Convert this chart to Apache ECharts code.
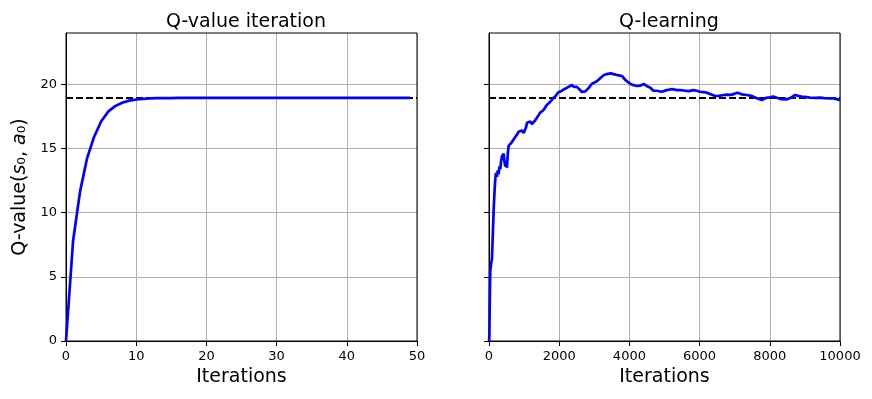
<!DOCTYPE html>
<html style="height: 100%">
<head>
<meta charset="utf-8">
<script src="https://cdn.jsdelivr.net/npm/echarts@6/dist/echarts.min.js"></script>
</head>
<body style="height: 100%; margin: 0; background: #fff">
<div id="container" style="width: 872px; height: 399px"></div>
<script type="text/javascript">
//------ data ------
var optimalQ = 18.94;
// Q-value iteration, one value per iteration 0..49
var qviValues = [0, 7.75, 11.64, 14.24, 15.9, 17.1, 17.87, 18.3, 18.57, 18.73,
  18.82, 18.87, 18.9, 18.92, 18.93, 18.93, 18.94, 18.94, 18.94, 18.94,
  18.94, 18.94, 18.94, 18.94, 18.94, 18.94, 18.94, 18.94, 18.94, 18.94,
  18.94, 18.94, 18.94, 18.94, 18.94, 18.94, 18.94, 18.94, 18.94, 18.94,
  18.94, 18.94, 18.94, 18.94, 18.94, 18.94, 18.94, 18.94, 18.94, 18.94];
// Q-learning
var qlIter = [0, 10, 18, 27, 37, 60, 84, 105, 132, 160, 179, 200, 227, 250, 274, 300, 322, 345, 369, 395,
  417, 440, 464, 490, 512, 535, 559, 600, 654, 700, 749, 800, 844, 890, 939, 990, 1034, 1060, 1081, 1130,
  1176, 1220, 1271, 1318, 1366, 1413, 1460, 1510, 1555, 1600, 1650, 1698, 1745, 1790, 1840, 1900, 1982, 2050, 2124, 2200,
  2266, 2362, 2420, 2505, 2580, 2647, 2742, 2835, 2932, 2977, 3050, 3119, 3170, 3264, 3300, 3360, 3406, 3470, 3548, 3620,
  3700, 3786, 3830, 3900, 4022, 4100, 4212, 4300, 4421, 4500, 4588, 4686, 4778, 4924, 5062, 5161, 5251, 5350, 5446, 5550,
  5682, 5820, 5921, 6010, 6100, 6205, 6300, 6442, 6550, 6650, 6775, 6900, 7077, 7200, 7344, 7450, 7533, 7650, 7771, 7900,
  8000, 8101, 8200, 8329, 8483, 8600, 8719, 8800, 8898, 9052, 9135, 9300, 9431, 9550, 9703, 9810, 9900, 10000];
var qlValues = [0, 0.3, 2.2, 4.0, 5.5, 6.0, 6.4, 8.0, 10.2, 11.8, 12.6, 13.1, 12.8, 13.3, 13.0, 13.6, 13.4, 14.0, 14.4, 14.3,
  14.6, 14.0, 13.6, 13.9, 13.5, 14.6, 15.2, 15.3, 15.5, 15.7, 15.9, 16.1, 16.3, 16.2, 16.4, 16.2, 16.1, 16.7, 17.0, 16.9,
  17.1, 16.9, 17.0, 17.2, 17.3, 17.6, 17.8, 17.9, 18.0, 18.2, 18.4, 18.5, 18.65, 18.8, 18.95, 19.1, 19.4, 19.45, 19.6, 19.7,
  19.8, 19.95, 19.8, 19.8, 19.6, 19.4, 19.45, 19.7, 20.05, 20.1, 20.2, 20.35, 20.45, 20.7, 20.6, 20.8, 20.75, 20.85, 20.8, 20.75,
  20.7, 20.65, 20.55, 20.3, 20.05, 19.95, 19.87, 19.9, 20.02, 19.85, 19.75, 19.5, 19.5, 19.42, 19.55, 19.6, 19.62, 19.55, 19.55, 19.52,
  19.47, 19.55, 19.5, 19.42, 19.4, 19.35, 19.25, 19.09, 19.1, 19.15, 19.2, 19.18, 19.35, 19.22, 19.17, 19.12, 19.04, 18.9, 18.78, 18.95,
  18.98, 19.04, 18.95, 18.85, 18.83, 18.95, 19.17, 19.1, 19.04, 19.0, 18.96, 18.95, 18.96, 18.93, 18.91, 18.9, 18.85, 18.78];
var yTicks = [0, 5, 10, 15, 20];

var dom = document.getElementById("container");
var myChart = echarts.init(dom);

var font = 'DejaVu Sans';
var qviData = qviValues.map(function (v, i) { return [i, v]; });
var qlData = qlIter.map(function (x, i) { return [x, qlValues[i]]; });

function xAxisCfg(idx, max, interval) {
	return {
		type: 'value', gridIndex: idx, min: 0, max: max, interval: interval,
		name: 'Iterations', nameLocation: 'middle', nameGap: 27,
		nameTextStyle: { fontFamily: font, fontSize: 19, color: '#000' },
		axisLine: { show: true, lineStyle: { color: '#000', width: 1 } },
		axisTick: { show: true, length: 5, lineStyle: { color: '#000' } },
		axisLabel: { fontFamily: font, fontSize: 13, color: '#000', margin: 9,
			formatter: function (v) { return String(v); } },
		splitLine: { show: true, lineStyle: { color: '#b0b0b0', width: 1 } }
	};
}
function yAxisCfg(idx, showLabels) {
	var a = {
		type: 'value', gridIndex: idx, min: 0, max: 24, interval: 5,
		axisLine: { show: true, lineStyle: { color: '#000', width: 1 } },
		axisTick: { show: true, length: 5, customValues: yTicks, lineStyle: { color: '#000' } },
		axisLabel: { show: showLabels, customValues: yTicks, fontFamily: font, fontSize: 13, color: '#000', margin: 9 },
		splitLine: { show: true, lineStyle: { color: '#b0b0b0', width: 1 } }
	};
	if (showLabels) {
		a.name = '{n|Q-value(}{i|s}{n|₀, }{i|a}{n|₀)}';
		a.nameLocation = 'middle';
		a.nameRotate = 90;
		a.nameGap = 36;
		a.nameTextStyle = {
			fontFamily: font, fontSize: 19, color: '#000',
			rich: {
				n: { fontFamily: font, fontSize: 19, color: '#000' },
				i: { fontFamily: font, fontSize: 19, fontStyle: 'italic', color: '#000' }
			}
		};
	}
	return a;
}

var option = {
	animation: false,
	title: [
		{ text: 'Q-value iteration', left: 241, top: 8, textAlign: 'center',
		  textStyle: { fontFamily: font, fontSize: 19, fontWeight: 'normal', color: '#000' } },
		{ text: 'Q-learning', left: 664, top: 8, textAlign: 'center',
		  textStyle: { fontFamily: font, fontSize: 19, fontWeight: 'normal', color: '#000' } }
	],
	grid: [
		{ left: 66, right: 455, top: 33, bottom: 58, show: true, borderColor: '#000', borderWidth: 1, z: 3 },
		{ left: 489, right: 32, top: 33, bottom: 58, show: true, borderColor: '#000', borderWidth: 1, z: 3 }
	],
	xAxis: [xAxisCfg(0, 50, 10), xAxisCfg(1, 10000, 2000)],
	yAxis: [yAxisCfg(0, true), yAxisCfg(1, false)],
	series: [
		{ type: 'line', xAxisIndex: 0, yAxisIndex: 0, showSymbol: false,
		  data: [[0, optimalQ], [50, optimalQ]],
		  lineStyle: { color: '#000', width: 2, type: [7, 3] } },
		{ type: 'line', xAxisIndex: 0, yAxisIndex: 0, showSymbol: false, data: qviData,
		  lineStyle: { color: '#0000ff', width: 2.7 } },
		{ type: 'line', xAxisIndex: 1, yAxisIndex: 1, showSymbol: false,
		  data: [[0, optimalQ], [10000, optimalQ]],
		  lineStyle: { color: '#000', width: 2, type: [7, 3] } },
		{ type: 'line', xAxisIndex: 1, yAxisIndex: 1, showSymbol: false, data: qlData,
		  lineStyle: { color: '#0000ff', width: 2.7 } }
	]
};

myChart.setOption(option, true);
</script>
</body>
</html>
